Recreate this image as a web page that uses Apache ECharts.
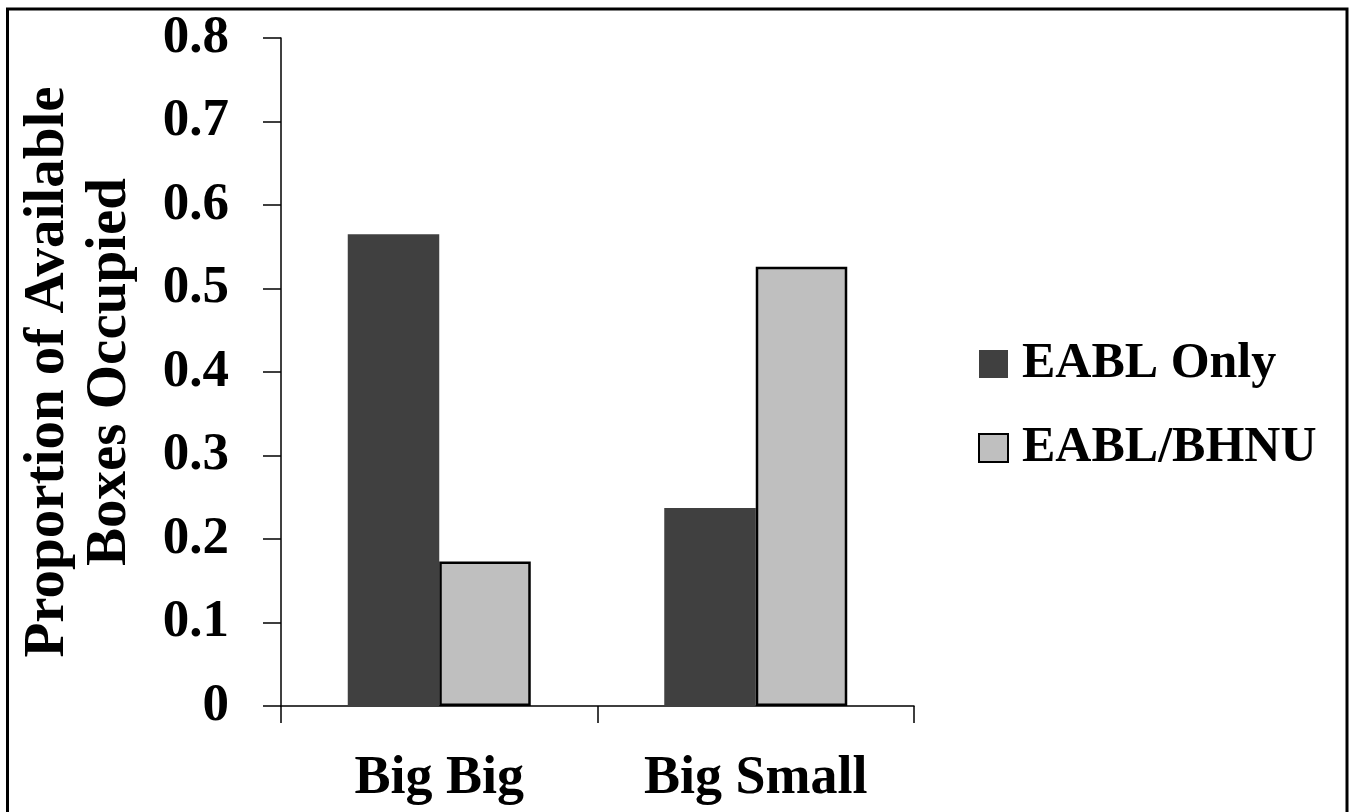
<!DOCTYPE html>
<html>
<head>
<meta charset="utf-8">
<script src="https://cdn.jsdelivr.net/npm/echarts@6/dist/echarts.min.js"></script>
<style>
  html, body { margin: 0; padding: 0; background: #fff; }
  #chart { width: 1351px; height: 812px; }
</style>
</head>
<body>
<div id="chart"></div>
<script>
// Box occupancy by pairing type
const categories = ['Big Big', 'Big Small'];
const seriesNames = ['EABL Only', 'EABL/BHNU'];
const eablOnly = [0.565, 0.237];
const eablBhnu = [0.173, 0.526];
const yTicks = { min: 0, max: 0.8, interval: 0.1 };

const FONT = '"Liberation Serif", "Times New Roman", serif';

const chart = echarts.init(document.getElementById('chart'));
chart.setOption({
  animation: false,
  backgroundColor: '#ffffff',
  graphic: [{
    type: 'rect',
    shape: { x: 7.5, y: 9, width: 1339.5, height: 830 },
    style: { fill: 'none', stroke: '#000', lineWidth: 3 },
    z: 100
  }],
  grid: { left: 281, right: 437, top: 38, bottom: 106, containLabel: false },
  legend: {
    orient: 'vertical',
    left: 978,
    top: 336,
    padding: 0,
    itemWidth: 29,
    itemHeight: 28,
    itemGap: 28,
    icon: 'rect',
    data: seriesNames,
    textStyle: {
      fontFamily: FONT, fontWeight: 'bold', fontSize: 50, color: '#000',
      lineHeight: 56, padding: [0, 0, 0, 9]
    }
  },
  xAxis: {
    type: 'category',
    data: categories,
    axisLine: { lineStyle: { color: '#000', width: 1.5 } },
    axisTick: { show: true, length: 17, lineStyle: { color: '#000', width: 1.5 } },
    axisLabel: {
      margin: 46,
      fontFamily: FONT, fontWeight: 'bold', fontSize: 54, color: '#000'
    }
  },
  yAxis: {
    type: 'value',
    min: yTicks.min,
    max: yTicks.max,
    interval: yTicks.interval,
    name: 'Proportion of Available\nBoxes Occupied',
    nameLocation: 'middle',
    nameRotate: 90,
    nameGap: 140,
    nameTextStyle: {
      fontFamily: FONT, fontWeight: 'bold', fontSize: 57, color: '#000', lineHeight: 62
    },
    axisLine: { show: true, lineStyle: { color: '#000', width: 1.5 } },
    axisTick: { show: true, length: 18, lineStyle: { color: '#000', width: 1.5 } },
    splitLine: { show: false },
    axisLabel: {
      margin: 52,
      fontFamily: FONT, fontWeight: 'bold', fontSize: 53, color: '#000',
      formatter: v => (v === 0 ? '0' : v.toFixed(1))
    }
  },
  series: [
    {
      name: seriesNames[0],
      type: 'bar',
      data: eablOnly,
      barWidth: 91.5,
      barGap: '0%',
      itemStyle: { color: '#404040' }
    },
    {
      name: seriesNames[1],
      type: 'bar',
      data: eablBhnu,
      barWidth: 91.5,
      itemStyle: { color: '#bfbfbf', borderColor: '#000', borderWidth: 2.5 }
    }
  ]
});
</script>
</body>
</html>
